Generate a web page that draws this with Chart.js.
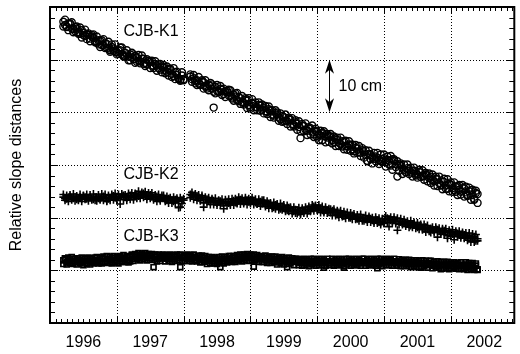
<!DOCTYPE html>
<html>
<head>
<meta charset="utf-8">
<script src="https://cdn.jsdelivr.net/npm/chart.js@4/dist/chart.umd.min.js"></script>
<style>
  body { margin: 0; background: #fff; }
  #wrap { width: 520px; height: 354px; position: relative; }
</style>
</head>
<body>
<div id="wrap"><canvas id="slopeChart"></canvas></div>
<script>
// observation epochs (decimal years), one row = half a year
const epochs = [
  1996.200, 1996.225, 1996.250, 1996.275, 1996.300, 1996.325, 1996.350, 1996.375, 1996.400, 1996.425,
  1996.450, 1996.475, 1996.500, 1996.525, 1996.550, 1996.575, 1996.600, 1996.625, 1996.650, 1996.675,
  1996.700, 1996.725, 1996.750, 1996.775, 1996.800, 1996.825, 1996.850, 1996.875, 1996.900, 1996.925,
  1996.950, 1996.975, 1997.000, 1997.025, 1997.050, 1997.075, 1997.100, 1997.125, 1997.150, 1997.175,
  1997.200, 1997.225, 1997.250, 1997.275, 1997.300, 1997.325, 1997.350, 1997.375, 1997.400, 1997.425,
  1997.450, 1997.475, 1997.500, 1997.525, 1997.550, 1997.575, 1997.600, 1997.625, 1997.650, 1997.675,
  1997.700, 1997.725, 1997.750, 1997.775, 1997.800, 1997.825, 1997.850, 1997.875, 1997.900, 1997.925,
  1997.950, 1997.975, 1998.000, 1998.025, 1998.050, 1998.075, 1998.100, 1998.125, 1998.150, 1998.175,
  1998.200, 1998.225, 1998.250, 1998.275, 1998.300, 1998.325, 1998.350, 1998.375, 1998.400, 1998.425,
  1998.450, 1998.475, 1998.500, 1998.525, 1998.550, 1998.575, 1998.600, 1998.625, 1998.650, 1998.675,
  1998.700, 1998.725, 1998.750, 1998.775, 1998.800, 1998.825, 1998.850, 1998.875, 1998.900, 1998.925,
  1998.950, 1998.975, 1999.000, 1999.025, 1999.050, 1999.075, 1999.100, 1999.125, 1999.150, 1999.175,
  1999.200, 1999.225, 1999.250, 1999.275, 1999.300, 1999.325, 1999.350, 1999.375, 1999.400, 1999.425,
  1999.450, 1999.475, 1999.500, 1999.525, 1999.550, 1999.575, 1999.600, 1999.625, 1999.650, 1999.675,
  1999.700, 1999.725, 1999.750, 1999.775, 1999.800, 1999.825, 1999.850, 1999.875, 1999.900, 1999.925,
  1999.950, 1999.975, 2000.000, 2000.025, 2000.050, 2000.075, 2000.100, 2000.125, 2000.150, 2000.175,
  2000.200, 2000.225, 2000.250, 2000.275, 2000.300, 2000.325, 2000.350, 2000.375, 2000.400, 2000.425,
  2000.450, 2000.475, 2000.500, 2000.525, 2000.550, 2000.575, 2000.600, 2000.625, 2000.650, 2000.675,
  2000.700, 2000.725, 2000.750, 2000.775, 2000.800, 2000.825, 2000.850, 2000.875, 2000.900, 2000.925,
  2000.950, 2000.975, 2001.000, 2001.025, 2001.050, 2001.075, 2001.100, 2001.125, 2001.150, 2001.175,
  2001.200, 2001.225, 2001.250, 2001.275, 2001.300, 2001.325, 2001.350, 2001.375, 2001.400, 2001.425,
  2001.450, 2001.475, 2001.500, 2001.525, 2001.550, 2001.575, 2001.600, 2001.625, 2001.650, 2001.675,
  2001.700, 2001.725, 2001.750, 2001.775, 2001.800, 2001.825, 2001.850, 2001.875, 2001.900, 2001.925,
  2001.950, 2001.975, 2002.000, 2002.025, 2002.050, 2002.075, 2002.100, 2002.125, 2002.150, 2002.175,
  2002.200, 2002.225, 2002.250, 2002.275, 2002.300, 2002.325, 2002.350, 2002.375, 2002.400
];

// relative slope distances in cm (arbitrary offsets), first reading per epoch
const k1 = [
  57.2, 56.6, 56.3, 56.9, 56.7, 55.9, 55.8, 56.2, 55.9, 55.2, 54.9, 55.6, 55.1, 54.5, 54.9, 54.7, 54.0, 54.4, 54.1, 53.5,
  53.2, 53.7, 53.6, 52.8, 52.8, 53.1, 53.0, 52.1, 51.8, 52.4, 52.1, 51.5, 51.4, 51.7, 51.8, 51.0, 50.8, 51.3, 51.0, 50.6,
  51.0, 50.4, 50.1, 50.7, 50.4, 49.8, 49.7, 50.2, 50.2, 49.4, 49.1, 49.8, 49.6, 48.9, 48.8, 49.2, 48.9, 48.4, 48.1, 48.7,
  48.5, 47.9, 47.7, 48.3, 48.1, 47.3, 46.9, 47.6, 47.1, 46.5, 46.2, 47.0, 46.3, null, null, null, 46.8, 46.3, 46.5, 46.0,
  46.1, 45.5, 45.3, 45.8, 45.7, 44.9, 44.9, 45.3, 45.0, 44.5, 40.9, 44.8, 44.1, 44.0, 44.5, 44.3, 43.5, 43.9, 43.8, 43.2,
  43.1, 42.8, 43.4, 43.0, 42.3, 42.9, 42.7, 42.0, 41.8, 42.4, 42.2, 41.4, 40.7, 41.8, 41.6, 41.0, 40.9, 41.4, 41.3, 40.5,
  40.9, 40.2, 40.1, 40.6, 40.4, 39.6, 39.4, 39.9, 39.6, 39.0, 38.7, 39.3, 39.1, 38.4, 38.3, 38.7, 38.6, 37.8, 37.6, 38.1,
  37.8, 37.2, 35.1, 37.5, 37.4, 36.7, 36.5, 36.9, 37.0, 36.2, 35.8, 36.5, 36.3, 35.8, 35.6, 36.1, 36.0, 35.4, 35.2, 35.5,
  35.4, 34.7, 34.4, 35.0, 34.8, 34.2, 34.0, 34.5, 34.4, 33.6, 33.5, 33.9, 33.7, 33.0, 32.6, 33.3, 33.1, 32.5, 32.3, 32.8,
  32.4, 31.9, 30.7, 32.1, 31.9, 31.4, 31.2, 31.6, 31.4, 30.9, 30.7, 31.1, 31.3, 30.5, 31.0, 30.8, 29.9, 31.1, 30.8, 30.2,
  27.8, 30.1, 29.9, 29.3, 29.1, 28.7, 29.4, 29.2, 28.6, 28.9, 28.9, 28.4, 28.2, 28.7, 28.6, 27.9, 27.9, 28.2, 28.0, 27.5,
  27.8, 27.1, 26.9, 27.4, 27.3, 26.6, 26.2, 26.9, 26.8, 26.1, 25.5, 26.4, 26.3, 25.6, 25.2, 25.9, 26.0, 25.3, 24.9, 25.6,
  25.6, 24.8, 24.3, 25.0, 25.2, 24.3, 23.6, 24.7, 24.5
];

// second reading per epoch
const k1b = [
  56.3, 57.6, 56.2, 55.6, 56.9, 57.1, 55.2, 55.4, 56.3, 54.9, 56.1, 54.2, 54.7, 55.7, 53.9, 55.0, 53.5, 54.7, 54.8, 53.3,
  54.4, 52.9, 52.4, 53.7, 53.9, 52.2, 52.2, 53.4, 51.5, 52.9, 51.7, 52.9, 51.0, 51.1, 52.3, 52.3, 50.6, 50.6, 51.8, 49.9,
  49.9, 51.3, 51.0, 49.4, 49.6, 50.9, 49.3, 50.8, 49.2, 48.8, 50.1, 49.8, 48.4, 49.8, 48.4, 49.7, 47.9, 49.1, 49.2, 47.6,
  49.0, 47.4, 48.7, 47.0, 48.3, 46.7, 48.4, 46.3, 47.7, 46.3, 46.0, 47.6, 46.1, null, null, null, 47.2, 45.8, 47.1, 45.5,
  45.2, 46.7, 45.2, 46.1, 44.5, 46.1, 44.5, 44.2, 45.6, 45.3, 43.9, 43.6, 45.2, 43.8, 45.0, 43.3, 44.5, 42.9, 44.1, 44.3,
  44.2, 42.6, 42.2, 43.6, 43.7, 42.1, 41.6, 43.1, 41.5, 42.7, 40.8, 42.7, 41.0, 42.5, 40.4, 41.9, 40.4, 41.9, 40.3, 41.5,
  39.8, 41.2, 39.7, 41.1, 39.1, 40.4, 39.0, 40.4, 40.0, 38.4, 39.8, 38.2, 38.3, 39.6, 37.8, 39.0, 37.3, 38.9, 37.3, 38.5,
  36.7, 38.3, 36.4, 37.8, 36.4, 37.9, 35.7, 37.2, 35.8, 37.5, 35.3, 36.9, 35.2, 34.7, 36.5, 34.7, 36.4, 34.3, 35.9, 34.4,
  35.9, 34.1, 35.4, 33.6, 35.2, 33.6, 35.2, 33.5, 33.0, 34.6, 32.9, 34.5, 32.7, 33.9, 32.2, 33.8, 32.3, 33.6, 31.7, 33.2,
  31.4, 32.8, 30.8, 32.7, 31.1, 30.3, 32.3, 30.7, 32.3, 30.2, 32.0, 30.6, 32.0, 29.7, 31.6, 30.1, 31.7, 29.1, 31.1, 29.6,
  30.7, 28.9, 30.3, 28.3, 30.1, 28.6, 30.1, 28.3, 29.5, 27.8, 29.5, 28.0, 27.6, 29.1, 27.7, 29.0, 27.2, 28.5, 26.9, 28.4,
  26.6, 28.2, 26.1, 27.8, 26.0, 27.8, 26.1, 25.4, 27.4, 25.5, 27.3, 25.0, 26.7, 24.9, 26.7, 24.9, 24.3, 26.2, 24.4, 26.2,
  24.0, 25.9, 24.1, 25.7, 23.4, 25.3, 23.4, 25.1, 22.8
];

const k2 = [
  23.9, 23.7, 23.6, 23.9, 24.0, 23.8, 23.7, 23.9, 23.5, 23.7, 23.9, 23.6, 24.1, 23.9, 23.6, 23.8, 23.8, 23.6, 23.5, 23.9,
  23.9, 23.7, 23.6, 23.8, 24.0, 23.7, 23.2, 23.6, 23.8, 24.0, 24.1, 23.8, 23.7, 23.9, 23.9, 24.1, 24.2, 23.9, 23.8, 24.0,
  24.2, 24.0, 23.9, 24.2, 24.4, 24.1, 24.1, 24.4, 24.6, 24.3, 24.0, 24.2, 24.3, 24.0, 23.8, 23.9, 24.0, 23.7, 23.5, 23.8,
  23.8, 23.5, 23.3, 23.6, 23.6, 23.3, 23.1, 23.4, 23.4, 23.1, 22.0, 23.3, 23.3, null, null, null, 24.4, 24.2, 24.0, 24.2,
  24.1, 23.8, 23.6, 23.9, 22.0, 23.5, 23.5, 23.2, 23.0, 23.3, 23.2, 23.0, 22.8, 23.1, 23.1, 22.8, 22.7, 22.9, 23.0, 22.8,
  22.7, 23.0, 23.2, 22.9, 22.9, 23.2, 23.4, 23.1, 23.0, 23.4, 23.3, 23.0, 23.0, 23.3, 23.2, 22.9, 22.7, 23.0, 23.0, 22.7,
  22.8, 22.5, 22.4, 22.7, 22.6, 22.2, 22.0, 22.4, 22.3, 21.9, 21.7, 22.1, 22.0, 21.6, 21.4, 21.9, 21.7, 21.3, 21.2, 21.5,
  21.4, 21.1, 20.9, 21.3, 21.2, 21.4, 21.6, 21.3, 21.5, 21.8, 22.1, 21.9, 21.8, 21.6, 21.7, 21.4, 21.2, 21.5, 21.4, 21.1,
  21.0, 21.3, 21.2, 20.9, 20.6, 21.0, 20.8, 20.5, 20.3, 20.6, 20.5, 20.2, 20.0, 20.4, 20.3, 19.9, 19.8, 20.1, 20.1, 19.8,
  19.9, 19.7, 19.6, 19.9, 19.8, 19.5, 19.3, 19.6, 19.5, 19.2, 19.1, 19.3, 19.0, 19.6, 19.9, 19.7, 19.5, 19.4, 19.6, 19.3,
  17.6, 19.3, 19.2, 19.0, 18.9, 19.1, 19.0, 18.7, 18.5, 18.8, 18.7, 18.4, 18.2, 18.5, 18.4, 18.1, 17.9, 18.2, 18.0, 17.8,
  17.9, 17.7, 17.5, 17.8, 17.7, 17.4, 17.3, 17.6, 17.5, 17.2, 16.1, 17.3, 17.2, 16.9, 16.8, 17.1, 17.0, 16.7, 16.6, 16.9,
  16.7, 16.5, 16.3, 16.6, 15.4, 16.2, 16.4, 15.6, 16.0
];

const k2b = [
  24.4, 23.3, 24.2, 23.1, 24.3, 23.4, 24.5, 23.2, 24.1, 23.3, 24.4, 23.1, 24.2, 23.5, 24.4, 23.2, 24.3, 23.4, 24.5, 23.3,
  23.2, 24.3, 23.4, 24.5, 23.3, 24.4, 23.1, 24.2, 23.3, 24.4, 23.4, 24.6, 23.3, 24.4, 22.6, 24.5, 23.4, 24.3, 23.3, 24.6,
  23.5, 24.7, 23.4, 24.6, 23.7, 25.0, 23.7, 24.8, 23.9, 24.9, 23.5, 24.7, 23.7, 24.7, 23.4, 24.3, 23.1, 24.4, 23.2, 24.2,
  24.2, 23.1, 24.0, 22.8, 23.8, 22.8, 23.9, 22.8, 23.7, 21.9, 23.8, 22.7, 23.6, null, null, null, 23.8, 24.8, 23.5, 24.5,
  23.3, 24.3, 23.2, 24.2, 22.8, 23.9, 22.9, 23.8, 22.5, 23.6, 22.5, 23.7, 22.4, 23.3, 22.4, 23.5, 21.7, 23.4, 22.3, 23.5,
  22.4, 23.6, 22.4, 23.6, 22.7, 23.9, 22.6, 23.7, 22.7, 23.8, 22.5, 23.6, 22.7, 23.8, 22.5, 23.5, 22.6, 23.5, 22.2, 23.3,
  23.3, 22.1, 23.1, 21.8, 22.8, 21.8, 22.9, 21.7, 22.6, 21.5, 22.7, 21.5, 22.4, 21.2, 22.3, 21.2, 22.0, 20.8, 22.0, 20.9,
  20.8, 21.9, 20.6, 21.8, 20.9, 22.0, 20.8, 22.1, 21.2, 22.4, 21.3, 22.3, 21.4, 22.4, 21.0, 22.1, 21.0, 22.0, 20.9, 21.7,
  21.6, 20.4, 21.6, 20.4, 21.3, 20.1, 21.3, 20.2, 21.1, 19.9, 21.0, 20.0, 20.9, 19.7, 20.7, 19.7, 20.5, 19.4, 20.6, 19.4,
  19.4, 20.4, 19.2, 20.2, 19.2, 20.0, 19.0, 20.1, 19.0, 19.9, 18.7, 19.8, 18.9, 20.3, 19.1, 18.3, 20.1, 19.1, 20.1, 18.9,
  19.9, 18.7, 19.8, 18.7, 19.6, 18.4, 19.3, 18.2, 19.4, 18.2, 19.1, 18.0, 19.0, 17.8, 18.7, 17.7, 18.7, 17.3, 18.5, 17.4,
  17.2, 18.2, 17.2, 18.2, 16.3, 18.0, 16.9, 17.9, 16.8, 17.9, 16.6, 17.6, 16.5, 17.7, 15.8, 17.4, 16.4, 17.4, 16.2, 17.2,
  16.1, 17.1, 15.7, 17.1, 16.0, 16.9, 15.4, 16.8, 15.6
];

const k3 = [
  11.9, 12.2, 11.5, 11.8, 12.1, 11.4, 11.7, 12.2, 11.6, 11.9, 12.0, 11.5, 11.8, 12.2, 11.4, 11.8, 12.1, 11.5, 11.7, 12.0,
  12.0, 11.7, 11.6, 12.3, 12.2, 11.5, 11.8, 12.1, 11.9, 11.6, 12.3, 12.0, 11.7, 12.4, 12.1, 11.8, 12.4, 12.2, 11.9, 12.5,
  12.5, 12.8, 12.2, 12.6, 12.9, 12.3, 12.6, 13.0, 12.8, 12.5, 12.4, 12.9, 12.7, 12.3, 10.6, 12.6, 12.6, 12.2, 12.3, 12.7,
  12.6, 12.3, 12.2, 12.7, 12.5, 12.2, 12.1, 12.6, 12.7, 12.3, 10.6, 12.4, 12.5, 12.8, 12.2, 12.5, 12.7, 12.1, 12.4, 12.6,
  12.4, 12.1, 12.0, 12.5, 12.3, 11.9, 11.8, 12.2, 12.1, 11.8, 11.7, 12.2, 12.0, 11.7, 10.6, 12.1, 11.8, 12.2, 12.1, 11.8,
  12.0, 12.3, 12.4, 11.9, 12.1, 12.5, 12.6, 12.2, 12.3, 12.6, 12.7, 12.3, 12.4, 12.7, 10.7, 12.2, 12.5, 12.3, 12.1, 12.5,
  12.3, 12.0, 11.9, 12.4, 12.2, 11.8, 11.8, 12.2, 12.1, 11.7, 11.7, 12.1, 12.0, 11.8, 10.6, 12.0, 11.9, 11.7, 11.6, 12.0,
  11.8, 11.5, 11.4, 11.9, 11.7, 11.4, 11.3, 11.8, 11.6, 11.3, 11.4, 11.7, 11.8, 11.4, 11.5, 11.8, 10.5, 11.6, 11.7, 11.4,
  11.4, 11.8, 11.7, 11.4, 11.3, 11.7, 11.6, 11.3, 10.5, 11.6, 11.5, 11.8, 11.7, 11.4, 11.3, 11.7, 11.6, 11.3, 11.4, 11.7,
  11.7, 11.4, 11.3, 11.7, 11.6, 11.3, 11.4, 11.7, 10.4, 11.6, 11.5, 11.3, 11.8, 11.6, 11.5, 11.8, 11.9, 11.5, 11.4, 11.7,
  11.6, 11.4, 11.3, 11.6, 11.7, 11.4, 11.2, 11.5, 11.5, 11.2, 11.1, 11.5, 11.4, 11.2, 10.5, 11.4, 11.3, 11.0, 11.2, 11.4,
  11.2, 11.0, 10.9, 11.2, 11.3, 10.9, 10.2, 11.0, 11.1, 11.3, 10.8, 11.0, 11.2, 10.9, 10.7, 11.2, 11.0, 10.8, 10.3, 11.1,
  10.9, 11.1, 10.6, 10.8, 11.1, 10.9, 10.5, 10.9, 10.2
];

const k3b = [
  11.2, 12.3, 11.1, 12.4, 11.3, 12.5, 11.2, 12.2, 11.1, 12.3, 11.3, 12.4, 11.0, 12.3, 11.2, 12.4, 11.1, 12.3, 11.3, 12.4,
  12.5, 11.3, 12.4, 11.3, 12.6, 11.5, 12.7, 11.4, 12.5, 11.3, 12.7, 11.5, 12.6, 11.3, 12.7, 11.6, 12.9, 11.6, 12.7, 11.5,
  11.7, 13.0, 11.8, 13.1, 12.1, 13.3, 11.9, 13.2, 12.1, 13.3, 11.9, 13.1, 12.0, 13.1, 12.0, 13.0, 11.7, 13.0, 11.8, 12.9,
  13.0, 11.7, 12.9, 11.8, 13.0, 11.6, 12.9, 11.8, 13.0, 11.9, 13.0, 11.7, 12.9, 11.8, 13.0, 11.8, 12.9, 11.7, 13.0, 11.9,
  11.7, 12.8, 11.5, 12.8, 11.6, 12.7, 11.2, 12.5, 11.3, 12.5, 11.3, 12.4, 11.2, 12.5, 11.5, 12.6, 11.3, 12.5, 11.5, 12.7,
  12.7, 11.6, 12.7, 11.6, 12.9, 11.9, 13.0, 11.7, 13.0, 11.9, 13.1, 11.8, 13.0, 11.9, 13.0, 11.9, 12.9, 11.6, 12.7, 11.6,
  11.6, 12.8, 11.4, 12.6, 11.4, 12.6, 11.5, 12.6, 11.1, 12.4, 11.3, 12.5, 11.1, 12.3, 11.2, 12.4, 11.3, 12.3, 11.0, 12.2,
  12.2, 11.0, 12.1, 10.9, 12.2, 11.0, 12.1, 10.8, 12.2, 11.1, 12.2, 10.9, 12.1, 11.0, 12.2, 11.0, 12.1, 10.9, 12.2, 11.1,
  11.0, 12.2, 10.9, 12.1, 11.0, 12.2, 11.0, 12.1, 10.8, 12.2, 11.1, 12.2, 10.9, 12.1, 11.0, 12.2, 11.0, 12.1, 10.9, 12.2,
  12.2, 10.9, 12.1, 11.0, 12.2, 11.0, 12.1, 10.9, 12.2, 11.1, 12.2, 10.8, 12.1, 11.0, 12.2, 11.0, 12.1, 10.9, 12.2, 11.1,
  10.9, 12.1, 10.8, 12.0, 10.8, 12.0, 10.9, 12.0, 10.6, 11.9, 10.8, 11.9, 10.6, 11.8, 10.7, 11.9, 10.8, 11.8, 10.5, 11.8,
  11.8, 10.4, 11.6, 10.5, 11.7, 10.5, 11.6, 10.3, 11.6, 10.5, 11.6, 10.2, 11.5, 10.4, 11.5, 10.3, 11.4, 10.2, 11.5, 10.4,
  10.2, 11.5, 10.1, 11.4, 10.2, 11.4, 10.1, 11.3, 10.1
];

const yearLabels = ["1996", "1997", "1998", "1999", "2000", "2001", "2002"];
const seriesNames = ["CJB-K1", "CJB-K2", "CJB-K3"];
const seriesLabelY = [55.3, 28.1, 16.5];
const axisTitle = "Relative slope distances";
const scaleText = "10 cm";

const X_MIN = 1996, X_MAX = 2002.95;
const Y_MIN = 0, Y_MAX = 60;
const FONT = '16px "Liberation Sans", Arial, Helvetica, sans-serif';

function toPoints(...readings) {
  const pts = [];
  readings.forEach((values) => {
    epochs.forEach((t, i) => pts.push({ x: t, y: values[i] }));
  });
  return pts;
}

const axesPlugin = {
  id: "axesPlugin",
  beforeDatasetsDraw(chart) {
    const { ctx, chartArea: a, scales } = chart;
    ctx.save();
    ctx.strokeStyle = "#000";
    ctx.lineWidth = 1;
    ctx.setLineDash([1, 2]);
    // dotted grid at year boundaries and every 10 cm
    for (let yr = 1997; yr <= 2002; yr++) {
      const px = Math.round(scales.x.getPixelForValue(yr)) + 0.5;
      ctx.beginPath();
      ctx.moveTo(px, a.top);
      ctx.lineTo(px, a.bottom);
      ctx.stroke();
    }
    for (let v = 10; v < Y_MAX; v += 10) {
      const py = Math.round(scales.y.getPixelForValue(v)) + 0.5;
      ctx.beginPath();
      ctx.moveTo(a.left, py);
      ctx.lineTo(a.right, py);
      ctx.stroke();
    }
    ctx.restore();
  },
  afterDatasetsDraw(chart) {
    const { ctx, chartArea: a, scales } = chart;
    const sx = scales.x, sy = scales.y;
    ctx.save();
    ctx.strokeStyle = "#000";
    ctx.fillStyle = "#000";

    // ticks: monthly on x, every 2 cm on y
    ctx.lineWidth = 1;
    ctx.beginPath();
    for (let yr = 1996; yr <= 2002; yr++) {
      for (let m = 0; m < 12; m++) {
        const v = yr + m / 12;
        if (v >= X_MAX) break;
        const px = Math.round(sx.getPixelForValue(v)) + 0.5;
        const len = m === 0 ? 7 : 4;
        ctx.moveTo(px, a.bottom);
        ctx.lineTo(px, a.bottom - len);
        ctx.moveTo(px, a.top);
        ctx.lineTo(px, a.top + len);
      }
    }
    for (let v = Y_MIN + 2; v < Y_MAX; v += 2) {
      const py = Math.round(sy.getPixelForValue(v)) + 0.5;
      const len = v % 10 === 0 ? 8 : 5;
      ctx.moveTo(a.left, py);
      ctx.lineTo(a.left + len, py);
      ctx.moveTo(a.right, py);
      ctx.lineTo(a.right - len, py);
    }
    ctx.stroke();

    // frame
    ctx.lineWidth = 2;
    ctx.strokeRect(a.left, a.top, a.right - a.left, a.bottom - a.top);

    // year labels centred within each year
    ctx.font = FONT;
    ctx.textAlign = "center";
    ctx.textBaseline = "middle";
    yearLabels.forEach((lab) => {
      const px = sx.getPixelForValue(Number(lab) + 0.5);
      ctx.fillText(lab, px, 343);
    });

    // series labels
    ctx.textAlign = "left";
    seriesNames.forEach((name, i) => {
      ctx.fillText(name, sx.getPixelForValue(1997.1), sy.getPixelForValue(seriesLabelY[i]));
    });

    // 10 cm scale arrow
    const ax = Math.round(sx.getPixelForValue(2000.17)) + 0.5;
    const yTop = sy.getPixelForValue(50);
    const yBot = sy.getPixelForValue(40);
    ctx.lineWidth = 1;
    ctx.beginPath();
    ctx.moveTo(ax, yTop + 6);
    ctx.lineTo(ax, yBot - 6);
    ctx.stroke();
    ctx.beginPath();
    ctx.moveTo(ax, yTop);
    ctx.lineTo(ax - 4.5, yTop + 14);
    ctx.lineTo(ax, yTop + 10);
    ctx.lineTo(ax + 4.5, yTop + 14);
    ctx.closePath();
    ctx.fill();
    ctx.beginPath();
    ctx.moveTo(ax, yBot);
    ctx.lineTo(ax - 4.5, yBot - 14);
    ctx.lineTo(ax, yBot - 10);
    ctx.lineTo(ax + 4.5, yBot - 14);
    ctx.closePath();
    ctx.fill();
    ctx.fillText(scaleText, sx.getPixelForValue(2000.32), sy.getPixelForValue(44.8));

    // y-axis title
    ctx.translate(17, 165);
    ctx.rotate(-Math.PI / 2);
    ctx.textAlign = "center";
    ctx.fillText(axisTitle, 0, 0);
    ctx.restore();
  },
};

const ctx = document.getElementById("slopeChart").getContext("2d");

new Chart(ctx, {
  type: "scatter",
  data: {
    datasets: [
      {
        label: seriesNames[0],
        data: toPoints(k1, k1b),
        pointStyle: "circle",
        radius: 3.5,
        borderWidth: 1.4,
        borderColor: "#000",
        backgroundColor: "rgba(0,0,0,0)",
      },
      {
        label: seriesNames[1],
        data: toPoints(k2, k2b),
        pointStyle: "cross",
        radius: 4,
        borderWidth: 1.6,
        borderColor: "#000",
        backgroundColor: "#000",
      },
      {
        label: seriesNames[2],
        data: toPoints(k3, k3b),
        pointStyle: "rect",
        radius: 3.5,
        borderWidth: 1.7,
        borderColor: "#000",
        backgroundColor: "rgba(0,0,0,0)",
      },
    ],
  },
  options: {
    responsive: true,
    maintainAspectRatio: false,
    devicePixelRatio: 1,
    animation: false,
    layout: { padding: { left: 50, right: 1, top: 7, bottom: 31 } },
    plugins: {
      legend: { display: false },
      tooltip: { enabled: false },
    },
    scales: {
      x: { type: "linear", min: X_MIN, max: X_MAX, display: false },
      y: { type: "linear", min: Y_MIN, max: Y_MAX, display: false },
    },
  },
  plugins: [axesPlugin],
});
</script>
</body>
</html>
